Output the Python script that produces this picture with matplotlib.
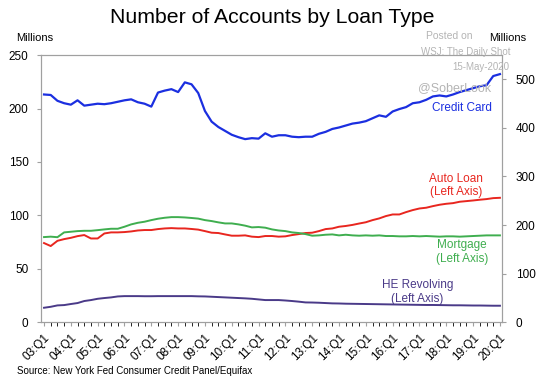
import matplotlib
matplotlib.use("Agg")
import matplotlib.pyplot as plt

plt.rcParams["font.family"] = ["Liberation Sans", "DejaVu Sans"]

# quarters 03:Q1 .. 20:Q1
years = list(range(3, 21))
quarters = [f"{y:02d}:Q{q}" for y in years for q in range(1, 5)][:69]
tick_labels = [f"{y:02d}:Q1" for y in years]

# millions of accounts
credit_card = [469, 468, 456, 451, 448, 457, 446, 448, 450, 449, 451, 454, 457, 459, 453, 450,
               444, 473, 477, 480, 474, 494, 490, 472, 435, 413, 402, 394, 386, 381, 377, 379,
               378, 389, 382, 385, 385, 382, 381, 382, 382, 388, 392, 398, 401, 405, 409, 411,
               414, 420, 426, 423, 434, 439, 443, 451, 453, 458, 465, 467, 465, 469, 474, 478,
               482, 486, 488, 507, 511]
auto_loan = [74, 71.2, 76.1, 77.7, 78.9, 80.5, 81.5, 78.3, 78.3, 83, 84, 84, 84.3, 84.9, 85.8, 86.2,
             86.2, 87.1, 87.7, 88, 87.7, 87.7, 87.2, 86.6, 85.2, 83.7, 83.4, 82.1, 80.9, 80.9, 81.2, 80,
             79.6, 80.6, 80.6, 80, 80.3, 81.5, 82.4, 83.4, 83.7, 85.2, 87.1, 87.7, 89.3, 90, 91,
             92.3, 93.5, 95.5, 97.1, 99.3, 100.8, 100.8, 103, 104.9, 106.4, 107.1, 108.6, 109.9, 110.8,
             111.4, 112.7, 113.3, 113.9, 114.6, 115.2, 116.1, 116.4]
mortgage = [79.6, 80, 79.5, 84, 84.6, 85.2, 85.5, 85.5, 86.1, 86.8, 87.4, 87.4, 89.3, 91.5, 93, 94,
            95.5, 96.8, 97.7, 98.3, 98.3, 98, 97.5, 96.9, 95.5, 94.6, 93.4, 92.4, 92.4, 91.5, 90.3, 88.7,
            89, 88.4, 86.8, 85.8, 85.2, 84, 83.4, 82.4, 80.9, 81.2, 81.8, 82.1, 81.2, 81.8, 81.2, 80.9,
            81.2, 80.9, 81.2, 80.6, 80.6, 80.3, 80.3, 80.6, 80.3, 80.6, 80.3, 80, 80.3, 80.3, 80, 80.3,
            80.6, 80.9, 81.2, 81.2, 81.2]
he_revolving = [13.4, 14.3, 15.6, 15.9, 16.9, 17.8, 19.7, 20.6, 21.8, 22.5, 23.1, 24, 24.3, 24.3, 24.3,
                24.2, 24.2, 24.3, 24.3, 24.3, 24.3, 24.3, 24.3, 24.1, 24, 23.7, 23.4, 23.1, 22.8, 22.5,
                22.2, 21.8, 21.2, 20.6, 20.6, 20.6, 20.2, 19.7, 19.1, 18.4, 18.3, 18.1, 17.8, 17.5, 17.4,
                17.2, 17.1, 17.0, 16.9, 16.8, 16.7, 16.6, 16.5, 16.4, 16.3, 16.2, 16.1, 16.0, 16.0, 15.9,
                15.8, 15.7, 15.7, 15.6, 15.5, 15.5, 15.4, 15.3, 15.3]

blue = "#1b2fe0"
red = "#e8261f"
green = "#3fae4f"
purple = "#4a3a88"
grey = "#a0a0a0"
wm = "#b4b4b4"

x = list(range(len(quarters)))

fig = plt.figure(figsize=(5.41, 3.78), dpi=100)
ax = fig.add_axes([0.0758, 0.148, 0.852, 0.706])
ax2 = ax.twinx()

ax.plot(x, auto_loan, color=red, lw=1.4)
ax.plot(x, mortgage, color=green, lw=1.4)
ax.plot(x, he_revolving, color=purple, lw=1.4)
ax2.plot(x, credit_card, color=blue, lw=1.6)

ax.set_ylim(0, 250)
ax2.set_ylim(0, 550)
ax.set_xlim(-0.45, 68.3)
ax.set_yticks(range(0, 251, 50))
ax2.set_yticks(range(0, 501, 100))
ax.set_xticks(range(0, 69, 4))
ax.set_xticklabels(tick_labels, rotation=45, ha="right", rotation_mode="anchor")
ax.set_xticks(x, minor=True)

for a in (ax, ax2):
    for s in a.spines.values():
        s.set_color(grey)
    a.tick_params(colors=grey, labelcolor="black", labelsize=8.5, length=3, width=0.8)
ax.tick_params(axis="x", which="both", length=3, pad=4, labelsize=8.5)
ax.tick_params(axis="y", pad=6)
ax2.tick_params(axis="y", pad=7)

fig.text(0.503, 0.955, "Number of Accounts by Loan Type", ha="center", va="center", fontsize=15.3)
fig.text(0.065, 0.899, "Millions", ha="center", va="center", fontsize=8)
fig.text(0.939, 0.899, "Millions", ha="center", va="center", fontsize=8)
fig.text(0.031, 0.019, "Source: New York Fed Consumer Credit Panel/Equifax", ha="left", va="center", fontsize=7)

# watermark
fig.text(0.83, 0.905, "Posted on", color=wm, fontsize=7.5, ha="center", va="center")
fig.text(0.861, 0.862, "WSJ: The Daily Shot", color=wm, fontsize=7, ha="center", va="center")
fig.text(0.889, 0.823, "15-May-2020", color=wm, fontsize=7, ha="center", va="center")
fig.text(0.841, 0.767, "@SoberLook", color=wm, fontsize=9, ha="center", va="center")

ax2.text(62.4, 441, "Credit Card", color=blue, fontsize=8.5, ha="center", va="center")
ax.text(61.5, 128, "Auto Loan\n(Left Axis)", color=red, fontsize=8.5, ha="center", va="center", linespacing=1.2)
ax.text(62.3, 66, "Mortgage\n(Left Axis)", color=green, fontsize=8.5, ha="center", va="center", linespacing=1.2)
ax.text(55.7, 28, "HE Revolving\n(Left Axis)", color=purple, fontsize=8.5, ha="center", va="center", linespacing=1.2)

fig.savefig("out.png", dpi=100)
